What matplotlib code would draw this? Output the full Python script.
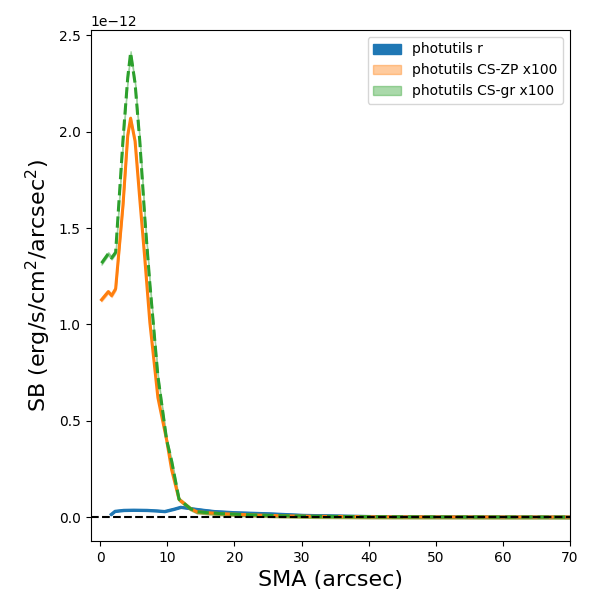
import numpy as np
import matplotlib
matplotlib.use('Agg')
from matplotlib import pyplot as plt

# surface brightness profiles (units of 1e-12 erg/s/cm2/arcsec2)
sma = [0.2, 1.2, 1.7, 2.3, 3.4, 4.1, 4.53, 5.2, 5.9, 6.65, 7.4, 8.6, 9.9, 10.65,
       11.75, 13.4, 14.4, 16, 18, 20, 23, 27, 32, 40, 50, 60, 70]
sb_zp = [1.128, 1.17, 1.15, 1.185, 1.62, 1.98, 2.07, 1.95, 1.65, 1.34, 1.01, 0.62,
         0.40, 0.245, 0.092, 0.045, 0.028, 0.023, 0.018, 0.015, 0.011, 0.007,
         0.004, 0.002, 0.001, 0.0005, 0.0002]
sb_gr = [1.318, 1.367, 1.345, 1.374, 1.96, 2.28, 2.41, 2.25, 1.95, 1.55, 1.21, 0.73,
         0.40, 0.29, 0.092, 0.045, 0.028, 0.023, 0.018, 0.015, 0.011, 0.007,
         0.004, 0.002, 0.001, 0.0005, 0.0002]

sma_r = [1.6, 2.2, 3.5, 5, 7, 8.5, 9.6, 11, 12, 13.5, 15.5, 17, 20, 25.3, 30.3,
         40, 50, 60, 70]
sb_r = [0.014, 0.031, 0.036, 0.037, 0.036, 0.033, 0.030, 0.042, 0.052, 0.045,
        0.036, 0.030, 0.024, 0.018, 0.010, 0.004, 0.0015, 0.0006, 0.0002]

scale = 1e-12
sma = np.array(sma)
sma_r = np.array(sma_r)
zp = np.array(sb_zp) * scale
gr = np.array(sb_gr) * scale
r = np.array(sb_r) * scale
band = 0.008 * scale

fig = plt.figure(figsize=(6, 6), dpi=100)
ax = fig.add_axes([0.151, 0.098, 0.799, 0.852])

ax.fill_between(sma_r, r - band / 2, r + band / 2, color='C0', alpha=1.0, label='photutils r')
ax.plot(sma_r, r, 'C0-', lw=2)
ax.fill_between(sma, zp - band, zp + band, color='C1', alpha=0.4, label='photutils CS-ZP x100')
ax.plot(sma, zp, 'C1-', lw=2.2)
ax.fill_between(sma, gr - band, gr + band, color='C2', alpha=0.4, label='photutils CS-gr x100')
ax.plot(sma, gr, 'C2--', lw=2.2)

ax.axhline(0, color='k', ls='--')

ax.set_xlim(-1.43, 70)
ax.set_ylim(-0.125 * scale, 2.528 * scale)
ax.set_xlabel('SMA (arcsec)', fontsize=16)
ax.set_ylabel('SB (erg/s/cm$^2$/arcsec$^2$)', fontsize=16)
ax.legend(loc='upper right')

fig.savefig('out.png')
